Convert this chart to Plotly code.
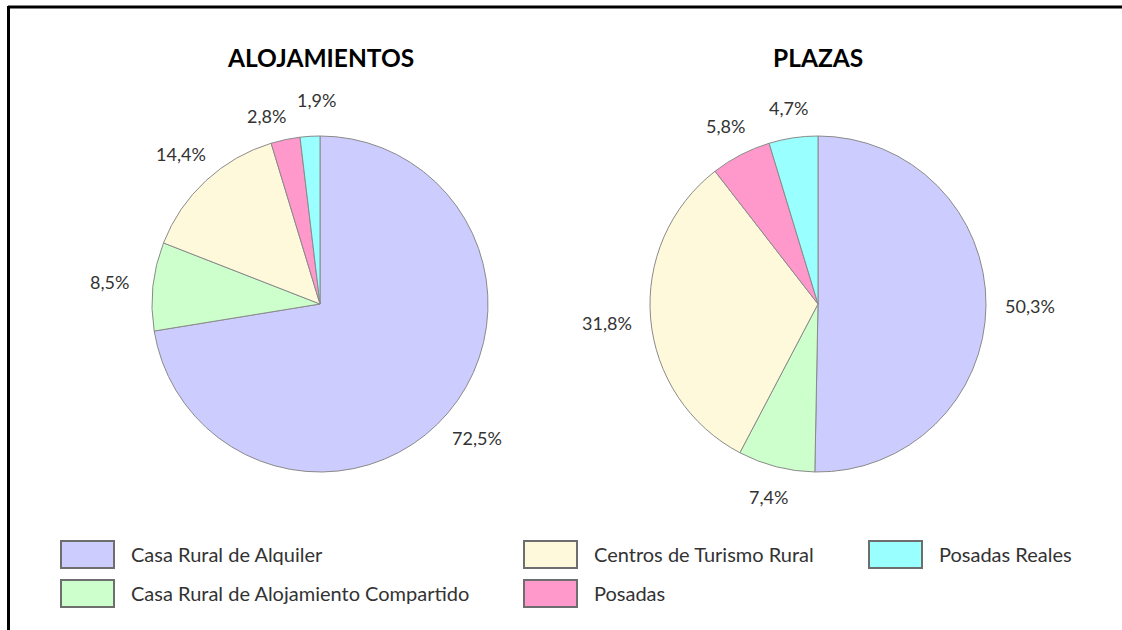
import math
import plotly.graph_objects as go

W, H = 1122, 630

categories = [
    "Casa Rural de Alquiler",
    "Casa Rural de Alojamiento Compartido",
    "Centros de Turismo Rural",
    "Posadas",
    "Posadas Reales",
]
alojamientos = [72.5, 8.5, 14.4, 2.8, 1.9]
plazas = [50.3, 7.4, 31.8, 5.8, 4.7]
titles = ["ALOJAMIENTOS", "PLAZAS"]
colors = ["#CCCCFF", "#CCFFCC", "#FFF9DC", "#FF99CC", "#99FFFF"]

FONT = "Lato, 'Open Sans', sans-serif"
TXT = "#333333"

# pie geometry in pixels (centre x, centre y, radius)
pies = [(320, 304, 168), (818, 304, 168)]
LABEL_W, LABEL_H = 46, 18


def px(x):
    return x / W


def py(y):
    return 1 - y / H


def fmt(v):
    return f"{v:.1f}".replace(".", ",") + "%"


fig = go.Figure()
annotations = []

for (cx, cy, r), vals, title in zip(pies, [alojamientos, plazas], titles):
    fig.add_trace(go.Pie(
        labels=categories,
        values=vals,
        sort=False,
        direction="clockwise",
        rotation=0,
        textinfo="none",
        hoverinfo="label+percent",
        marker=dict(colors=colors, line=dict(color="#8a8a8a", width=1)),
        domain=dict(x=[px(cx - r), px(cx + r)], y=[py(cy + r), py(cy - r)]),
        showlegend=False,
    ))
    annotations.append(dict(
        x=px(cx), y=py(57), xref="paper", yref="paper", text=f"<b>{title}</b>",
        showarrow=False, xanchor="center", yanchor="middle",
        font=dict(family=FONT, size=24.5, color="#000000"),
    ))
    # percentage labels outside each slice, along its mid angle
    total = sum(vals)
    cum = 0.0
    spots = []
    for v in vals:
        mid = (cum + v / 2) / total * 2 * math.pi
        cum += v
        s, c = math.sin(mid), math.cos(mid)
        dist = r + 30 + 14 * s * s
        spots.append([cx + dist * s, cy - dist * c, v])
    # push apart neighbouring labels that would collide
    for i in range(1, len(spots)):
        a, b = spots[i - 1], spots[i]
        ox = LABEL_W + 4 - abs(a[0] - b[0])
        oy = LABEL_H - abs(a[1] - b[1])
        if ox > 0 and oy > 0:
            a[0] -= ox * 0.6
            b[0] += ox * 0.4
            a[1] += 6
            b[1] -= 6
    for lx, ly, v in spots:
        annotations.append(dict(
            x=px(lx), y=py(ly), xref="paper", yref="paper", text=fmt(v),
            showarrow=False, xanchor="center", yanchor="middle",
            font=dict(family=FONT, size=18, color=TXT),
        ))

# legend: swatch boxes with labels, laid out in columns
legend_pos = [(61, 541), (61, 580), (524, 541), (524, 580), (869, 541)]
shapes = []
for (lx, ly), name, col in zip(legend_pos, categories, colors):
    shapes.append(dict(
        type="rect", xref="paper", yref="paper",
        x0=px(lx), x1=px(lx + 53), y0=py(ly), y1=py(ly + 27),
        fillcolor=col, line=dict(color="#6e6e6e", width=2),
    ))
    annotations.append(dict(
        x=px(lx + 68), y=py(ly + 13), xref="paper", yref="paper", text=name,
        showarrow=False, xanchor="left", yanchor="middle",
        font=dict(family=FONT, size=20, color=TXT),
    ))

# frame lines along the top and left edges
shapes.append(dict(type="line", xref="paper", yref="paper",
                   x0=px(8), x1=1, y0=py(7), y1=py(7),
                   line=dict(color="#000000", width=3)))
shapes.append(dict(type="line", xref="paper", yref="paper",
                   x0=px(8.5), x1=px(8.5), y0=py(6), y1=0,
                   line=dict(color="#000000", width=3)))

fig.update_layout(
    width=W, height=H,
    margin=dict(l=0, r=0, t=0, b=0),
    paper_bgcolor="#ffffff",
    plot_bgcolor="#ffffff",
    annotations=annotations,
    shapes=shapes,
    font=dict(family=FONT, color=TXT),
)

fig.write_html("out.html")
